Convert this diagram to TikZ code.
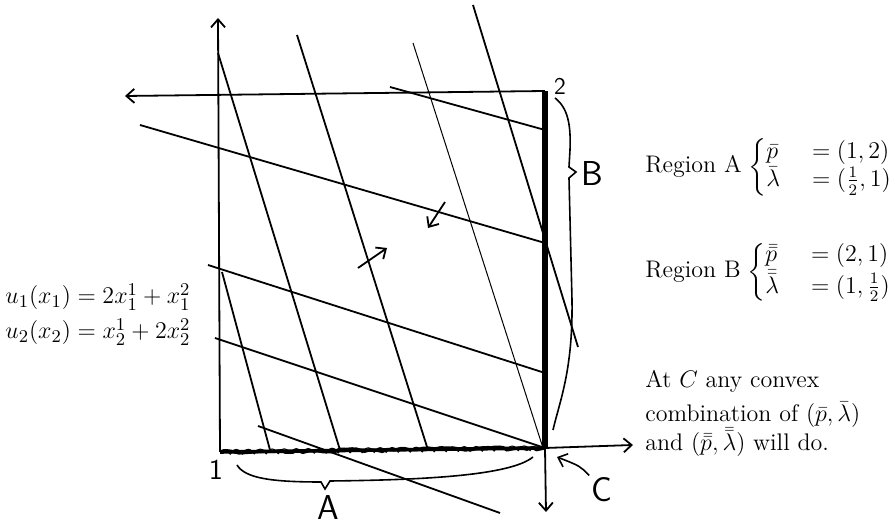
\documentclass[tikz,border=0pt]{standalone}
\usepackage{amsmath}
\usetikzlibrary{arrows.meta,decorations.pathmorphing}

\begin{document}
\begin{tikzpicture}[
  x=0.5pt,
  y=-0.5pt,
  font=\large,
  >={Straight Barb[length=4pt,width=7pt]},
  axis/.style={->, line width=0.9pt},
  curve/.style={line width=0.9pt},
  faint/.style={line width=0.5pt},
  contract/.style={line width=2.6pt},
  brace/.style={line width=0.8pt},
  hand/.style={font=\sffamily\Large, inner sep=1pt},
  label/.style={anchor=west, inner sep=0pt}
]
  \useasboundingbox (0,0) rectangle (896,528);

  % corners of the box and ends of the axes
  \coordinate (o1) at (220,452);
  \coordinate (o2) at (545,91);
  \coordinate (c) at (545,448);
  \coordinate (yone) at (218,18);
  \coordinate (xtwo) at (125,96);
  \coordinate (xone) at (633,445);
  \coordinate (ytwo) at (546,512);
  \coordinate (ctip) at (557,457);

  \draw[axis] (o1) -- (yone);
  \draw[axis] (o2) -- (xtwo);
  \draw[axis] (c) -- (xone);
  \draw[axis] (c) -- (ytwo);

  % indifference curves of 1 (steep)
  \draw[curve] (222,272) -- (270,450);
  \draw[curve] (218,53) -- (340,450);
  \draw[curve] (297,35) -- (428,450);
  \draw[faint] (413,43) -- (543,448);
  \draw[curve] (473,5) -- (578,347);

  % indifference curves of 2 (flat)
  \draw[curve] (390,87) -- (545,130);
  \draw[curve] (140,125) -- (545,243);
  \draw[curve] (208,265) -- (545,373);
  \draw[curve] (215,338) -- (c);
  \draw[curve] (258,426) -- (500,513);

  \draw[->, curve] (445,202) -- (428,228);
  \draw[->, curve] (358,268) -- (387,248);

  % contract curve
  \draw[contract] (c) -- (o2);
  \draw[line width=1.8pt] (o1) -- (c);
  \draw[line width=1.6pt, decorate, decoration={random steps, segment length=3pt, amplitude=0.8pt}] (o1) -- (c);
  \draw[line width=0.5pt, decorate, decoration={coil, amplitude=1.2pt, segment length=6pt}] (o1) -- (c);

  % hand written labels
  \node[hand] (none) at (216,470) {1};
  \node[hand, font=\sffamily\large] (ntwo) at (560,86) {2};
  \node[hand, font=\sffamily\LARGE] (na) at (328,508) {A};
  \node[hand, font=\sffamily\LARGE] (nb) at (592,174) {B};
  \node[hand, font=\sffamily\LARGE] (nc) at (602,490) {C};

  \draw[brace] (555,98) .. controls (568,108) and (571,125) .. (570,150)
    -- (569,167) -- (576,172) -- (569,178)
    -- (572,300) .. controls (573,370) and (560,400) .. (553,430);
  \draw[brace] (237,465) .. controls (245,478) and (270,482) .. (321,482)
    -- (325,489) -- (330,481) .. controls (420,480) and (510,476) .. (533,457);
  \draw[->, brace] (nc.north west) .. controls (580,466) .. (ctip);

  % formulas and notes
  \node[label, font=\fontsize{12.8}{15}\selectfont] (ua) at (5,297) {$u_1(x_1) = 2x_1^1 + x_1^2$};
  \node[label, font=\fontsize{12.8}{15}\selectfont] (ub) at (5,332) {$u_2(x_2) = x_2^1 + 2x_2^2$};

  \node[label] (rega) at (645,167) {Region A$\;\left\{\begin{array}{@{}l@{\hspace{16pt}}l@{}}
    \bar p & = (1,2)\\ \bar\lambda & = (\frac{1}{2},1)\end{array}\right.$};
  \node[label] (regb) at (645,272) {Region B$\;\left\{\begin{array}{@{}l@{\hspace{16pt}}l@{}}
    \bar{\bar p} & = (2,1)\\ \bar{\bar\lambda} & = (1,\frac{1}{2})\end{array}\right.$};

  \node[label, anchor=north west, align=left] (note) at (645,370)
    {At $C$ any convex\\[3pt] combination of $(\bar p,\bar\lambda)$\\[-1pt]
     and $(\bar{\bar p},\bar{\bar\lambda})$ will do.};
\end{tikzpicture}
\end{document}
